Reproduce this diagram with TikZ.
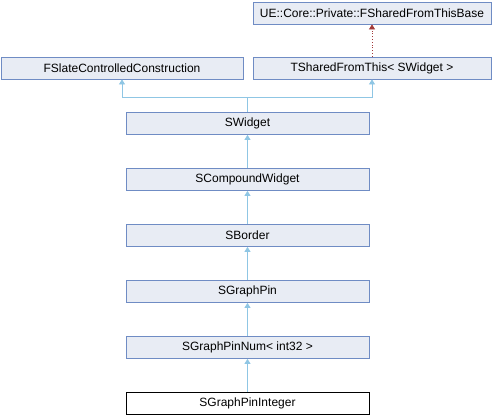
\documentclass[tikz,border=0pt]{standalone}
\usepackage{fontspec}
\setmainfont{Liberation Sans}
\usepackage{tikz}
\usetikzlibrary{arrows.meta}

\definecolor{boxfill}{HTML}{E8ECF4}
\definecolor{boxline}{HTML}{6F8CC4}
\definecolor{inhline}{HTML}{8FC6E4}
\definecolor{tmplline}{HTML}{A33A3A}

\begin{document}
\begin{tikzpicture}[x=1pt,y=-1pt,
	cls/.style={draw=boxline,fill=boxfill,line width=0.8pt,minimum height=22pt,inner sep=0pt,font=\fontsize{12}{13}\selectfont},
	leaf/.style={cls,draw=black,fill=white},
	inh/.style={draw=inhline,line width=0.8pt,-{Triangle[length=5pt,width=6pt]}},
	tmpl/.style={draw=tmplline,line width=0.8pt,dotted,-{Triangle[length=5pt,width=6pt]}}]

	\useasboundingbox (0,0) rectangle (496,416);

	\node[cls,minimum width=238pt] (base) at (372,13) {UE::Core::Private::FSharedFromThisBase};
	\node[cls,minimum width=238pt] (tshared) at (372,68) {TSharedFromThis< SWidget >};
	\node[cls,minimum width=242pt] (fslate) at (122,68) {FSlateControlledConstruction};
	\node[cls,minimum width=243pt] (swidget) at (247.5,123.5) {SWidget};
	\node[cls,minimum width=243pt] (compound) at (247.5,179.5) {SCompoundWidget};
	\node[cls,minimum width=243pt] (border) at (247.5,235.5) {SBorder};
	\node[cls,minimum width=243pt] (pin) at (247.5,291.5) {SGraphPin};
	\node[cls,minimum width=243pt] (pinnum) at (247.5,347.5) {SGraphPinNum< int32 >};
	\node[leaf,minimum width=243pt] (pinint) at (247.5,403.5) {SGraphPinInteger};

	\draw[tmpl] (tshared) -- (base);
	\draw[inh] (swidget.north) -- ++(0,-15) -| (fslate.south);
	\draw[inh] (swidget.north) -- ++(0,-15) -| (tshared.south);
	\draw[inh] (compound) -- (swidget);
	\draw[inh] (border) -- (compound);
	\draw[inh] (pin) -- (border);
	\draw[inh] (pinnum) -- (pin);
	\draw[inh] (pinint) -- (pinnum);
\end{tikzpicture}
\end{document}
